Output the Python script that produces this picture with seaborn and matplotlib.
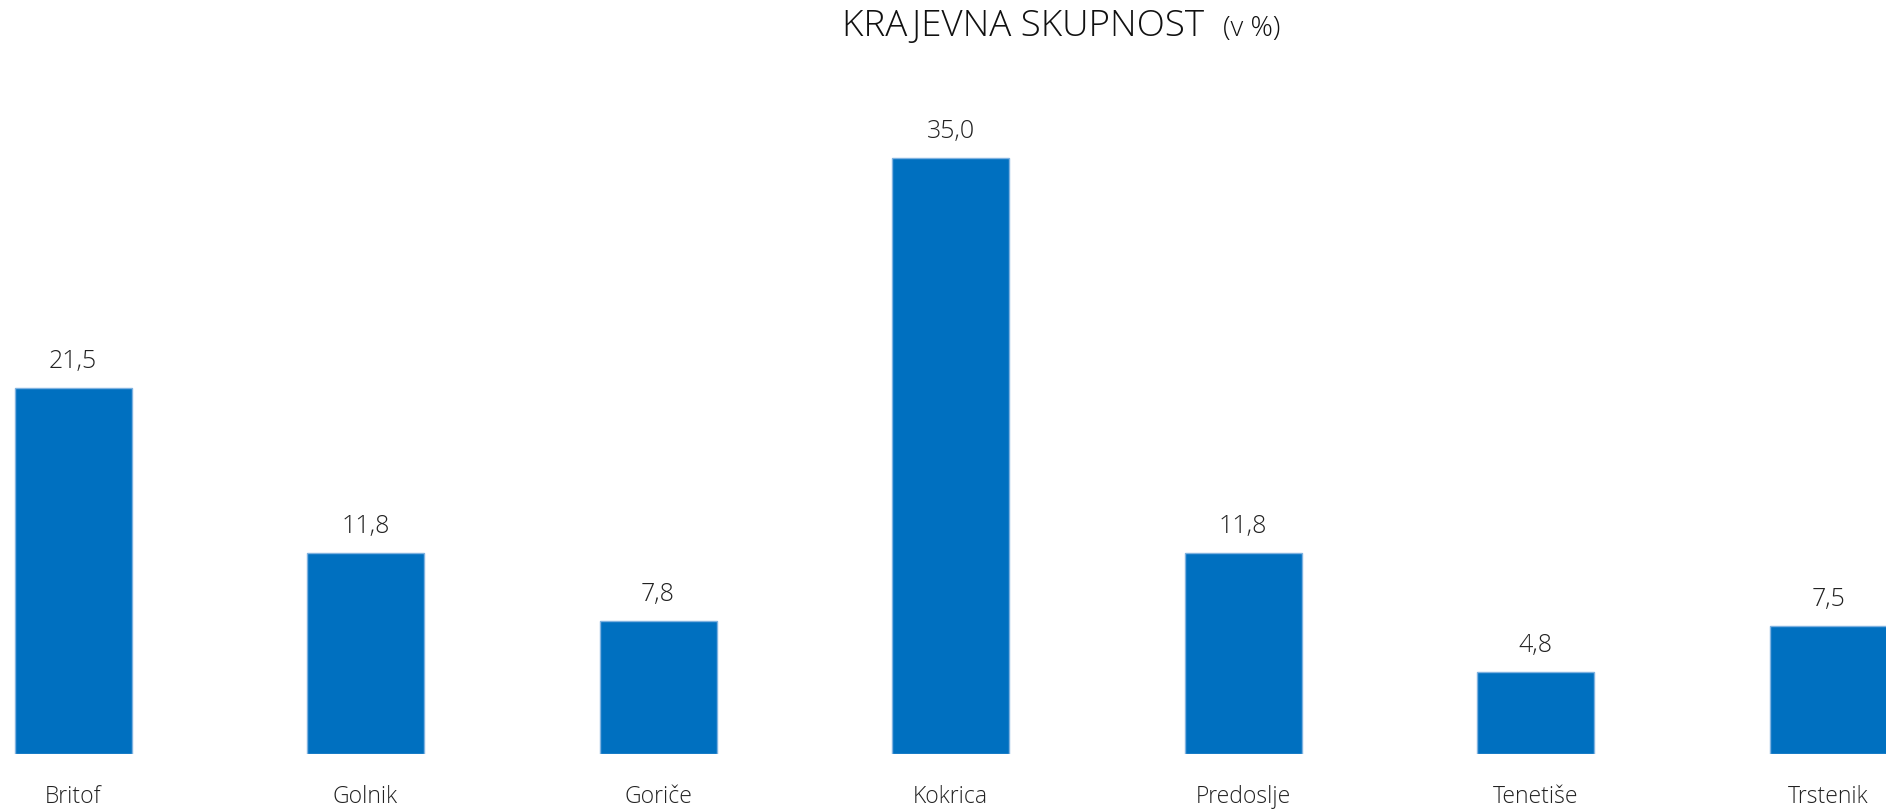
import matplotlib
matplotlib.use("Agg")
import matplotlib.pyplot as plt
import seaborn as sns
import pandas as pd

categories = ["Britof", "Golnik", "Goriče", "Kokrica", "Predoslje", "Tenetiše", "Trstenik"]
values = [21.5, 11.8, 7.8, 35.0, 11.8, 4.8, 7.5]
value_labels = ["21,5", "11,8", "7,8", "35,0", "11,8", "4,8", "7,5"]

sns.set_theme(style="white")
plt.rcParams['font.family'] = ['Open Sans', 'DejaVu Sans']

df = pd.DataFrame({"ks": categories, "pct": values})

fig = plt.figure(figsize=(18.86, 8.09), dpi=100)
ax = fig.add_axes([0, 0.068, 1, 0.932])
sns.barplot(data=df, x="ks", y="pct", color="#0070C0", width=0.4, ax=ax,
            edgecolor="#7fb2e0", linewidth=1, saturation=1)
ax.set_xlim(-0.2496, 6.198)
ax.set_ylim(0, 44.25)
for s in ax.spines.values():
    s.set_visible(False)
ax.set_yticks([])
ax.set_xlabel("")
ax.set_ylabel("")
ax.tick_params(axis='x', length=0, pad=22, labelsize=16.5, labelcolor="#222222")
for lab in ax.get_xticklabels():
    lab.set_fontweight("light")

for p, lbl in zip(ax.patches, value_labels):
    ax.annotate(lbl, (p.get_x() + p.get_width() / 2, p.get_height()),
                xytext=(0, 10), textcoords="offset points", ha="center", va="bottom",
                fontsize=18, color="#222222", fontweight="light")

fig.text(0.4465, 0.955, "KRAJEVNA SKUPNOST", ha="left", va="baseline", fontsize=26.5,
         color="#111111", fontweight="light")
fig.text(0.6485, 0.955, "(v %)", ha="left", va="baseline", fontsize=20,
         color="#111111", fontweight="light")

fig.savefig("out.png", dpi=100)
